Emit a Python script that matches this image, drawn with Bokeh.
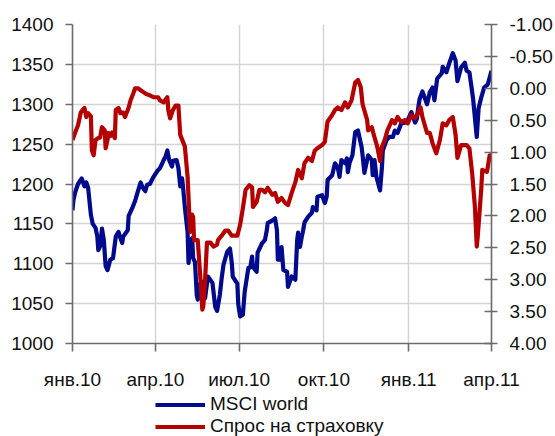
from datetime import datetime
import pandas as pd
from bokeh.plotting import figure
from bokeh.layouts import column
from bokeh.models import (Range1d, LinearAxis, FixedTicker, NumeralTickFormatter,
                          Legend, LegendItem, DatetimeAxis, Grid, ColumnDataSource)
from bokeh.embed import file_html
from bokeh.resources import INLINE

# ---------------- data ----------------
msci_dates = [
    "2010-01-01", "2010-01-02", "2010-01-04", "2010-01-07", "2010-01-11", "2010-01-14", "2010-01-16",
    "2010-01-18", "2010-01-21", "2010-01-23", "2010-01-26", "2010-01-28", "2010-01-29", "2010-01-31",
    "2010-02-02", "2010-02-04", "2010-02-06", "2010-02-08", "2010-02-11", "2010-02-14", "2010-02-17",
    "2010-02-20", "2010-02-22", "2010-02-24", "2010-02-25", "2010-03-02", "2010-03-03", "2010-03-07",
    "2010-03-10", "2010-03-12", "2010-03-16", "2010-03-18", "2010-03-21", "2010-03-23", "2010-03-26",
    "2010-03-30", "2010-04-03", "2010-04-06", "2010-04-10", "2010-04-12", "2010-04-14", "2010-04-16",
    "2010-04-19", "2010-04-20", "2010-04-24", "2010-04-26", "2010-04-28", "2010-04-30", "2010-05-01",
    "2010-05-03", "2010-05-06", "2010-05-07", "2010-05-09", "2010-05-11", "2010-05-12", "2010-05-14",
    "2010-05-16", "2010-05-17", "2010-05-20", "2010-05-22", "2010-05-23", "2010-05-25", "2010-05-28",
    "2010-06-02", "2010-06-05", "2010-06-07", "2010-06-10", "2010-06-12", "2010-06-14", "2010-06-18",
    "2010-06-21", "2010-06-23", "2010-06-24", "2010-06-29", "2010-06-30", "2010-07-02", "2010-07-05",
    "2010-07-07", "2010-07-11", "2010-07-13", "2010-07-15", "2010-07-16", "2010-07-20", "2010-07-21",
    "2010-07-26", "2010-07-29", "2010-07-31", "2010-08-01", "2010-08-07", "2010-08-09", "2010-08-11",
    "2010-08-12", "2010-08-14", "2010-08-16", "2010-08-18", "2010-08-22", "2010-08-23", "2010-08-27",
    "2010-08-31", "2010-09-02", "2010-09-03", "2010-09-05", "2010-09-07", "2010-09-08", "2010-09-10",
    "2010-09-14", "2010-09-18", "2010-09-19", "2010-09-23", "2010-09-24", "2010-09-29", "2010-10-02",
    "2010-10-04", "2010-10-05", "2010-10-10", "2010-10-13", "2010-10-16", "2010-10-18", "2010-10-20",
    "2010-10-24", "2010-10-26", "2010-10-27", "2010-10-29", "2010-11-01", "2010-11-04", "2010-11-07",
    "2010-11-11", "2010-11-12", "2010-11-14", "2010-11-18", "2010-11-22", "2010-11-23", "2010-11-25",
    "2010-11-27", "2010-12-01", "2010-12-03", "2010-12-04", "2010-12-08", "2010-12-11", "2010-12-15",
    "2010-12-17", "2010-12-20", "2010-12-24", "2010-12-28", "2010-12-31", "2011-01-04", "2011-01-08",
    "2011-01-10", "2011-01-11", "2011-01-13", "2011-01-16", "2011-01-21", "2011-01-24", "2011-01-27",
    "2011-01-29", "2011-02-01", "2011-02-06", "2011-02-07", "2011-02-11", "2011-02-14", "2011-02-18",
    "2011-02-21", "2011-02-23", "2011-02-27", "2011-03-03", "2011-03-05", "2011-03-08", "2011-03-10",
    "2011-03-12", "2011-03-16", "2011-03-18", "2011-03-21", "2011-03-24", "2011-03-28", "2011-04-01",
]
msci_values = [
    1167, 1180, 1190, 1200, 1207, 1197, 1202,
    1195, 1161, 1150, 1145, 1134, 1117, 1122,
    1144, 1130, 1097, 1092, 1105, 1107, 1134,
    1140, 1132, 1126, 1134, 1142, 1160, 1170,
    1179, 1187, 1202, 1196, 1191, 1199, 1200,
    1209, 1216, 1220, 1230, 1234, 1242, 1230,
    1222, 1229, 1230, 1220, 1197, 1207, 1197,
    1171, 1139, 1101, 1127, 1132, 1107, 1102,
    1060, 1055, 1076, 1077, 1059, 1057, 1084,
    1076, 1046, 1041, 1061, 1082, 1099, 1115,
    1119, 1101, 1084, 1075, 1049, 1034, 1036,
    1065, 1095, 1095, 1109, 1096, 1090, 1114,
    1126, 1130, 1142, 1151, 1155, 1157, 1142,
    1105, 1105, 1121, 1092, 1090, 1071, 1084,
    1080, 1130, 1139, 1121, 1134, 1139, 1152,
    1159, 1164, 1171, 1167, 1184, 1186, 1176,
    1184, 1205, 1211, 1226, 1221, 1209, 1230,
    1226, 1232, 1215, 1227, 1236, 1265, 1267,
    1246, 1236, 1214, 1236, 1230, 1211, 1230,
    1209, 1192, 1221, 1242, 1255, 1259, 1259,
    1267, 1264, 1276, 1277, 1280, 1290, 1277,
    1282, 1292, 1307, 1316, 1300, 1315, 1321,
    1305, 1332, 1339, 1347, 1340, 1351, 1364,
    1355, 1329, 1346, 1352, 1342, 1340, 1324,
    1307, 1259, 1295, 1309, 1321, 1325, 1342,
]

spread_dates = [
    "2010-01-01", "2010-01-04", "2010-01-07", "2010-01-10", "2010-01-12", "2010-01-14", "2010-01-16",
    "2010-01-18", "2010-01-21", "2010-01-22", "2010-01-24", "2010-01-26", "2010-01-29", "2010-01-31",
    "2010-02-02", "2010-02-05", "2010-02-06", "2010-02-08", "2010-02-09", "2010-02-11", "2010-02-13",
    "2010-02-16", "2010-02-17", "2010-02-20", "2010-02-22", "2010-02-25", "2010-02-27", "2010-03-02",
    "2010-03-03", "2010-03-05", "2010-03-08", "2010-03-10", "2010-03-13", "2010-03-16", "2010-03-19",
    "2010-03-22", "2010-03-26", "2010-03-30", "2010-04-04", "2010-04-06", "2010-04-10", "2010-04-14",
    "2010-04-15", "2010-04-17", "2010-04-20", "2010-04-23", "2010-04-26", "2010-04-28", "2010-05-01",
    "2010-05-03", "2010-05-06", "2010-05-08", "2010-05-09", "2010-05-11", "2010-05-12", "2010-05-13",
    "2010-05-17", "2010-05-20", "2010-05-22", "2010-05-23", "2010-05-25", "2010-05-27", "2010-05-31",
    "2010-06-03", "2010-06-07", "2010-06-08", "2010-06-12", "2010-06-16", "2010-06-19", "2010-06-23",
    "2010-06-29", "2010-07-02", "2010-07-05", "2010-07-08", "2010-07-12", "2010-07-15", "2010-07-16",
    "2010-07-20", "2010-07-23", "2010-07-26", "2010-07-29", "2010-08-01", "2010-08-06", "2010-08-09",
    "2010-08-12", "2010-08-16", "2010-08-20", "2010-08-23", "2010-08-27", "2010-08-31", "2010-09-03",
    "2010-09-07", "2010-09-10", "2010-09-14", "2010-09-18", "2010-09-21", "2010-09-24", "2010-09-29",
    "2010-10-02", "2010-10-05", "2010-10-10", "2010-10-13", "2010-10-16", "2010-10-20", "2010-10-24",
    "2010-10-27", "2010-10-31", "2010-11-04", "2010-11-07", "2010-11-10", "2010-11-12", "2010-11-17",
    "2010-11-18", "2010-11-22", "2010-11-25", "2010-11-28", "2010-12-01", "2010-12-03", "2010-12-06",
    "2010-12-09", "2010-12-14", "2010-12-17", "2010-12-20", "2010-12-24", "2010-12-28", "2010-12-31",
    "2011-01-04", "2011-01-08", "2011-01-11", "2011-01-14", "2011-01-16", "2011-01-21", "2011-01-24",
    "2011-01-27", "2011-01-31", "2011-02-04", "2011-02-07", "2011-02-11", "2011-02-14", "2011-02-18",
    "2011-02-21", "2011-02-23", "2011-02-27", "2011-03-05", "2011-03-08", "2011-03-11", "2011-03-14",
    "2011-03-16", "2011-03-17", "2011-03-19", "2011-03-21", "2011-03-22", "2011-03-27", "2011-03-28",
    "2011-03-30", "2011-04-01",
]
spread_values = [
    0.81, 0.69, 0.58, 0.38, 0.34, 0.31, 0.45,
    0.39, 0.44, 0.97, 1.05, 0.81, 0.78, 0.77,
    0.61, 0.66, 0.94, 0.81, 0.70, 0.75, 0.69,
    0.78, 0.34, 0.31, 0.39, 0.38, 0.45, 0.34,
    0.30, 0.19, 0.08, 0.00, 0.00, 0.03, 0.06,
    0.09, 0.11, 0.14, 0.14, 0.19, 0.22, 0.14,
    0.34, 0.47, 0.34, 0.27, 0.27, 0.73, 0.84,
    0.91, 1.39, 2.02, 2.25, 1.98, 2.02, 2.38,
    2.38, 3.00, 3.47, 3.42, 3.00, 2.42, 2.42,
    2.48, 2.45, 2.38, 2.31, 2.23, 2.23, 2.31,
    2.31, 2.14, 1.88, 1.59, 1.52, 1.55, 1.86,
    1.78, 1.59, 1.59, 1.63, 1.56, 1.67, 1.64,
    1.78, 1.72, 1.80, 1.83, 1.64, 1.47, 1.28,
    1.41, 1.17, 1.09, 1.14, 0.98, 0.94, 0.89,
    0.84, 0.52, 0.42, 0.34, 0.30, 0.34, 0.22,
    0.30, 0.19, -0.09, -0.13, -0.02, 0.25, 0.50,
    0.66, 0.61, 0.77, 0.92, 1.14, 0.92, 0.81,
    0.66, 0.50, 0.55, 0.45, 0.53, 0.50, 0.55,
    0.42, 0.47, 0.39, 0.30, 0.45, 0.70, 0.70,
    0.86, 1.02, 0.81, 0.55, 0.58, 0.50, 0.45,
    0.73, 1.09, 0.89, 0.89, 0.94, 1.33, 1.86,
    2.48, 2.33, 1.95, 1.55, 1.28, 1.31, 1.23,
    1.05, 1.05,
]

left_ticks = [1000, 1050, 1100, 1150, 1200, 1250, 1300, 1350, 1400]
right_ticks = [-1.0, -0.5, 0.0, 0.5, 1.0, 1.5, 2.0, 2.5, 3.0, 3.5, 4.0]
x_tick_dates = ["2010-01-01", "2010-04-01", "2010-07-01", "2010-10-01", "2011-01-01", "2011-04-01"]
x_tick_labels = ["янв.10", "апр.10", "июл.10", "окт.10", "янв.11", "апр.11"]
series_labels = ["MSCI world", "Спрос на страховку"]

# ---------------- figure ----------------
FONT = "Liberation Sans"
FS = "19px"
BLUE = "#000a8c"
RED = "#b40000"
LW = 4.2

msci_src = ColumnDataSource(dict(x=pd.to_datetime(msci_dates), y=msci_values))
spread_src = ColumnDataSource(dict(x=pd.to_datetime(spread_dates), y=spread_values))

p = figure(width=555, height=392, output_backend="svg", toolbar_location=None,
           x_axis_type=None, y_axis_type=None,
           x_range=Range1d(datetime(2010, 1, 1), datetime(2011, 4, 1)),
           y_range=Range1d(1000, 1400),
           min_border_left=72, min_border_right=63, min_border_top=24, min_border_bottom=48)
p.extra_y_ranges = {"right": Range1d(start=4.0, end=-1.0)}
p.outline_line_color = None
p.background_fill_color = "white"
p.border_fill_color = "white"

tick_ms = [pd.Timestamp(d).value / 1e6 for d in x_tick_dates]

xaxis = DatetimeAxis(ticker=FixedTicker(ticks=tick_ms))
xaxis.major_label_overrides = {t: l for t, l in zip(tick_ms, x_tick_labels)}
xaxis.major_tick_out = 8
xaxis.major_tick_in = 0
xaxis.minor_tick_out = 0
xaxis.minor_tick_in = 0
xaxis.major_label_standoff = 17
p.add_layout(xaxis, "below")

yaxis = LinearAxis(ticker=FixedTicker(ticks=left_ticks))
yaxis.major_tick_out = 7
yaxis.major_tick_in = 0
yaxis.minor_tick_out = 0
yaxis.minor_tick_in = 0
yaxis.major_label_standoff = 12
p.add_layout(yaxis, "left")

raxis = LinearAxis(y_range_name="right", ticker=FixedTicker(ticks=right_ticks),
                   formatter=NumeralTickFormatter(format="0.00"))
raxis.major_tick_out = 6
raxis.major_tick_in = 7
raxis.minor_tick_out = 0
raxis.minor_tick_in = 0
raxis.major_label_standoff = 12
p.add_layout(raxis, "right")

for ax in (xaxis, yaxis, raxis):
    ax.axis_line_color = "#6b6b6b"
    ax.axis_line_width = 1.6
    ax.major_tick_line_color = "#6b6b6b"
    ax.major_tick_line_width = 1.6
    ax.major_label_text_font = FONT
    ax.major_label_text_font_size = FS
    ax.major_label_text_color = "#111111"

for dim, ticks in ((0, tick_ms), (1, left_ticks)):
    p.add_layout(Grid(dimension=dim, ticker=FixedTicker(ticks=ticks),
                      grid_line_color="#d4d4d4", grid_line_width=1.5))

p.line("x", "y", source=msci_src, line_color=BLUE, line_width=LW, line_join="round")
p.line("x", "y", source=spread_src, line_color=RED, line_width=LW, line_join="round",
       y_range_name="right")

# ---------------- legend strip under the chart ----------------
# the same series are attached here only so that the legend can draw its key lines;
# this strip's ranges lie outside the data, so nothing but the legend is visible.
lg = figure(width=555, height=44, output_backend="svg", toolbar_location=None,
            x_axis_type=None, y_axis_type=None,
            x_range=Range1d(0, 1), y_range=Range1d(0, 1),
            min_border_left=0, min_border_right=0, min_border_top=0, min_border_bottom=0)
lg.outline_line_color = None
lg.background_fill_color = "white"
lg.border_fill_color = "white"
k_blue = lg.line("x", "y", source=msci_src, line_color=BLUE, line_width=LW)
k_red = lg.line("x", "y", source=spread_src, line_color=RED, line_width=LW)

legend = Legend(items=[LegendItem(label=series_labels[0], renderers=[k_blue]),
                       LegendItem(label=series_labels[1], renderers=[k_red])],
                location=(83, -1), orientation="vertical",
                label_text_font=FONT, label_text_font_size=FS, label_text_color="#111111",
                glyph_width=50, glyph_height=19, label_height=19,
                label_standoff=5, spacing=0, padding=0, margin=0,
                border_line_color=None, background_fill_alpha=0)
lg.add_layout(legend, "center")

open("out.html", "w").write(file_html(column(p, lg, spacing=0), INLINE))
